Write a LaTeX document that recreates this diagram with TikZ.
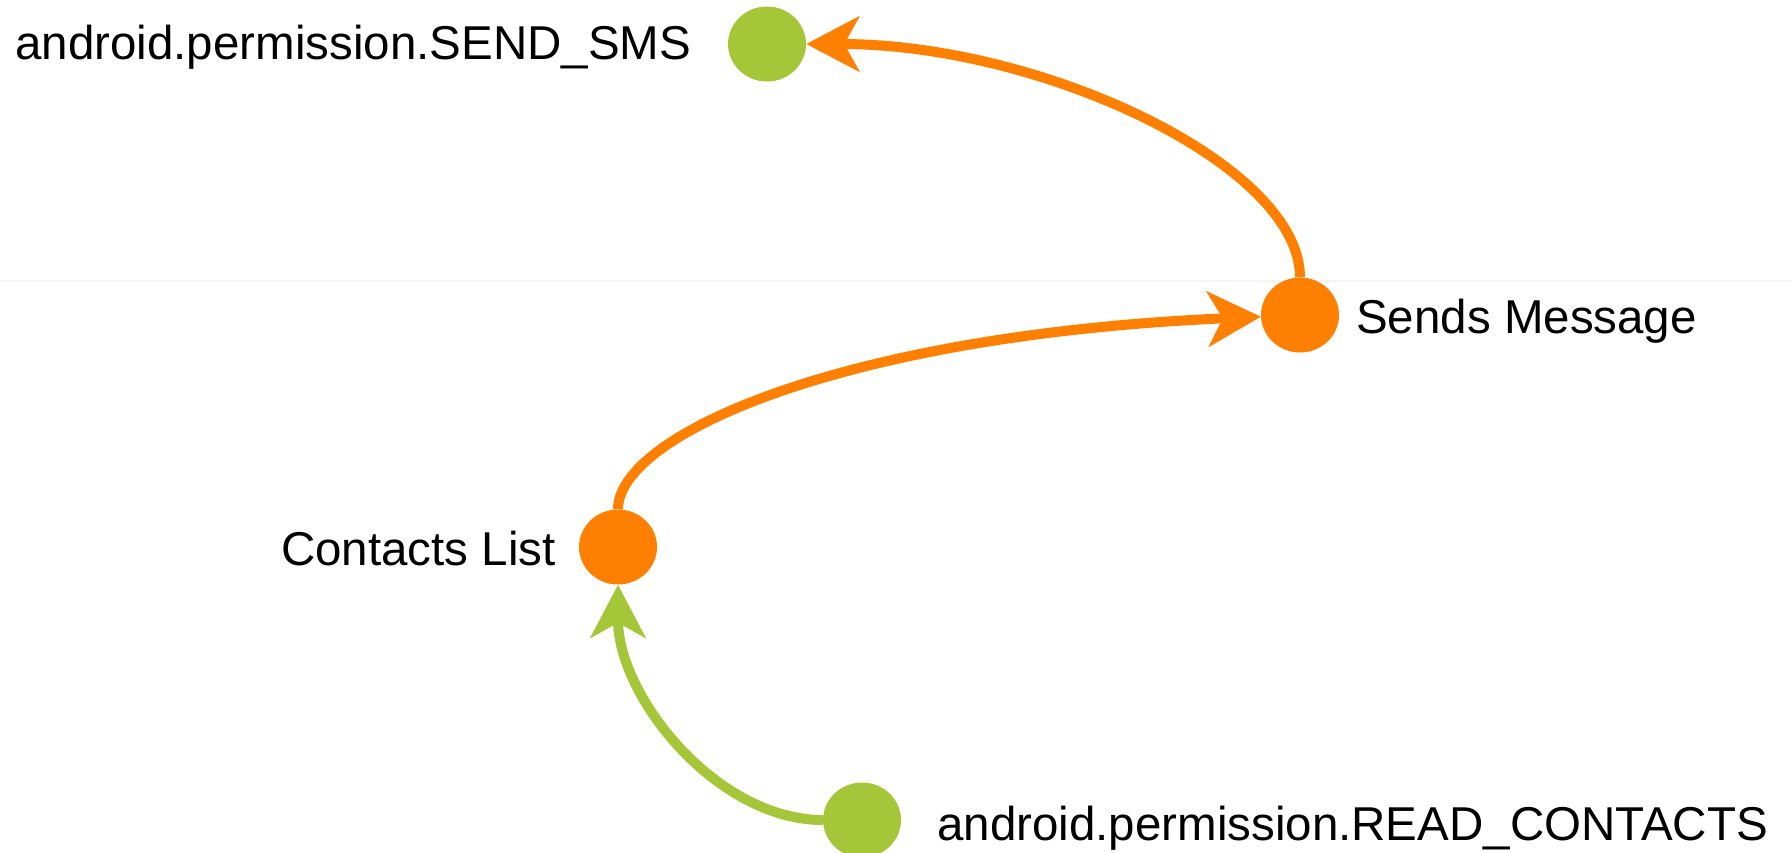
\documentclass[tikz,border=0pt]{standalone}
\usepackage{fontspec}
\setmainfont{Liberation Sans}
\usepackage{tikz}
\usetikzlibrary{arrows.meta,shapes.geometric}
\definecolor{PermGreen}{RGB}{165,198,57}
\definecolor{FlowOrange}{RGB}{255,127,0}
\definecolor{SeamGray}{RGB}{244,244,244}

\begin{document}
\begin{tikzpicture}[x=1pt,y=-1pt,
  perm/.style={ellipse,fill=PermGreen,minimum width=78pt,minimum height=75pt,inner sep=0pt},
  act/.style={ellipse,fill=FlowOrange,minimum width=78pt,minimum height=75pt,inner sep=0pt},
  lbl/.style={inner sep=0pt,anchor=base west,font=\fontsize{47.5}{57}\selectfont},
  flow/.style={line width=10pt,-{Stealth[length=53pt,width=55pt,inset=15pt]}}]
\useasboundingbox (0,0) rectangle (1791,852);
\draw[SeamGray,line width=1.5pt] (0,281) -- (1791,281);
% permissions and actions
\node[perm] (sms) at (767,44) {};
\node[act] (sends) at (1300,315) {};
\node[act] (contacts) at (618,547) {};
\node[perm] (read) at (862,820) {};
\node[lbl] (smslbl) at (15,59) {android.permission.SEND\_SMS};
\node[lbl] (sendslbl) at (1356,333) {Sends Message};
\node[lbl] (contactslbl) at (281,565) {Contacts List};
\node[lbl] (readlbl) at (937,840) {android.permission.READ\_CONTACTS};
% flows
\draw[flow,FlowOrange] (sends) .. controls +(0,-150) and +(275,0) .. (sms);
\draw[flow,FlowOrange] (contacts) .. controls +(0,-112) and +(-458,20) .. (sends);
\draw[flow,PermGreen] (read) .. controls +(-145,0) and +(0,150) .. (contacts);
\end{tikzpicture}
\end{document}
